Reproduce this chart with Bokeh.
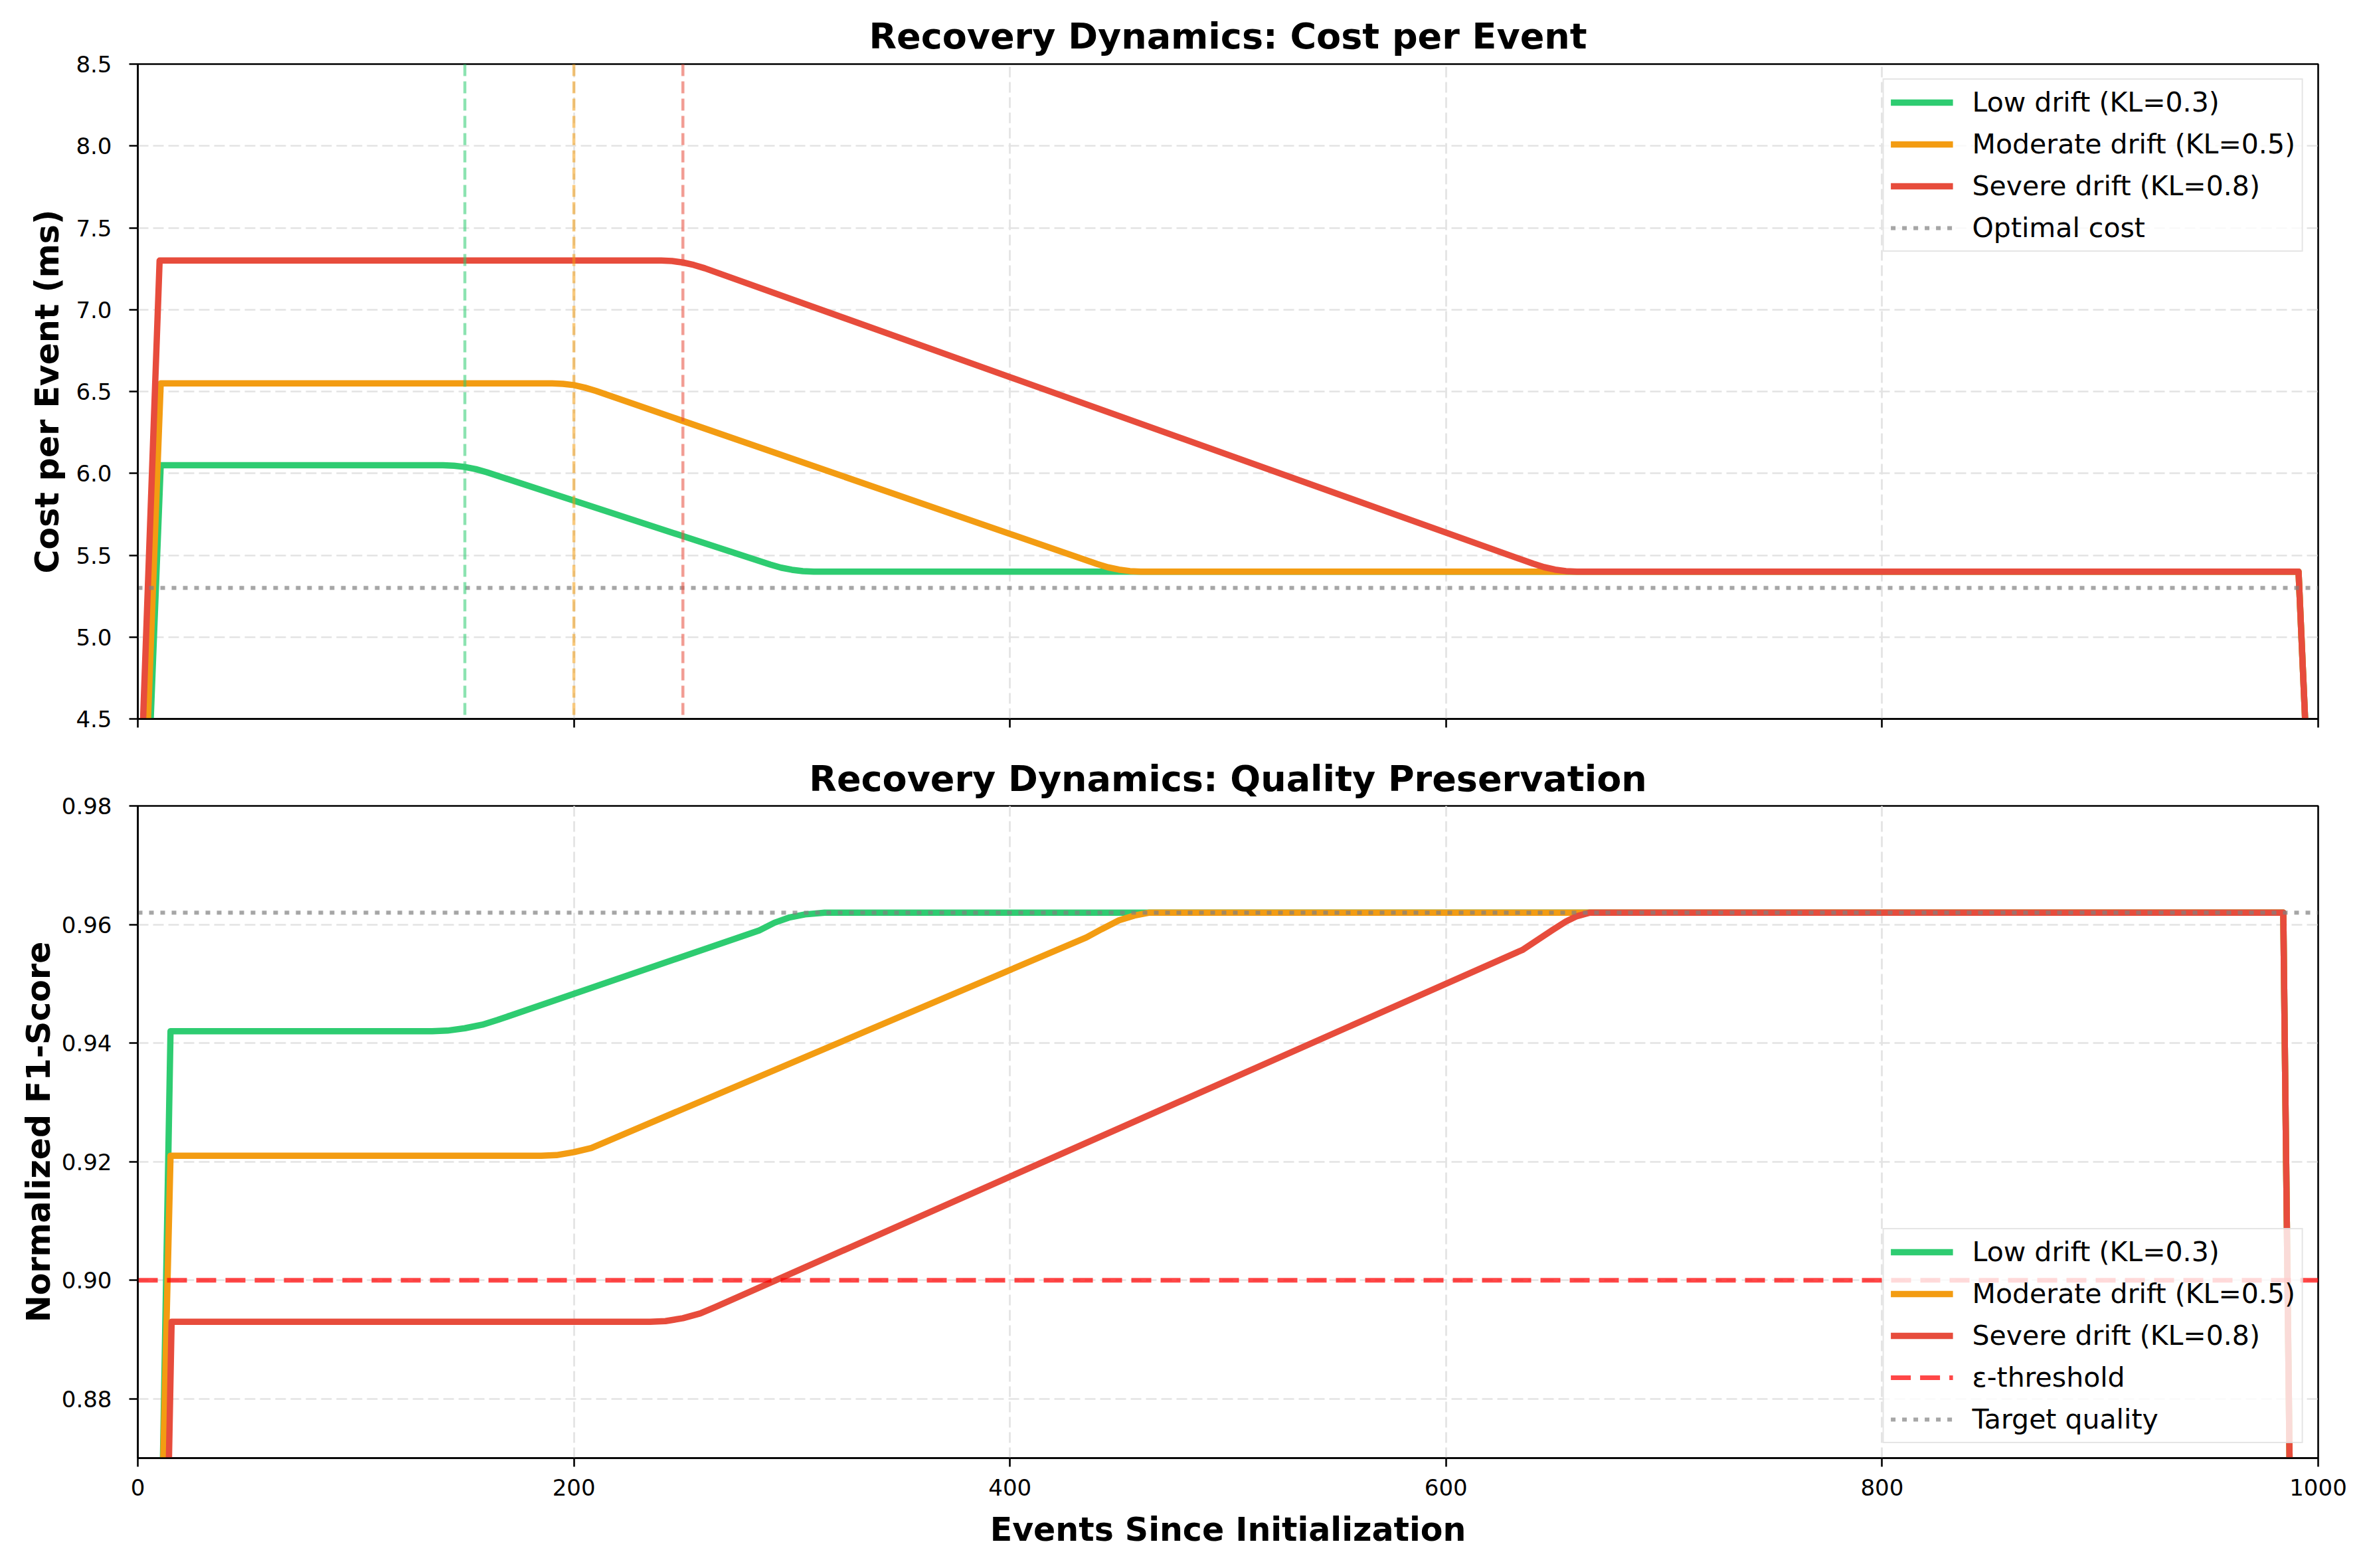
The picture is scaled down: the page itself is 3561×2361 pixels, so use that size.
from bokeh.plotting import figure
from bokeh.models import Range1d, FixedTicker, Legend, LegendItem, Span, PrintfTickFormatter
from bokeh.layouts import column
from bokeh.embed import file_html
from bokeh.resources import INLINE

FONT = "DejaVu Sans"
GREEN, ORANGE, RED = "#2ecc71", "#f39c12", "#e74c3c"

# ---------------- data ----------------
X_MIN, X_MAX = 0, 1000
X_TICKS = [0, 200, 400, 600, 800, 1000]

SERIES_NAMES = ["Low drift (KL=0.3)", "Moderate drift (KL=0.5)", "Severe drift (KL=0.8)"]

# Cost per event (ms)
low_cost_x = [0, 10.5, 140, 145, 150, 155, 160, 290, 295, 300, 305, 310, 991, 999]
low_cost_y = [2.5, 6.05, 6.05, 6.047, 6.039, 6.026, 6.007, 5.443, 5.424, 5.411, 5.403, 5.40, 5.40, 3.0]
mod_cost_x = [0, 10.5, 190, 195, 200, 205, 210, 440, 445, 450, 455, 460, 991, 999]
mod_cost_y = [2.85, 6.55, 6.55, 6.547, 6.539, 6.524, 6.504, 5.446, 5.426, 5.412, 5.403, 5.40, 5.40, 3.0]
sev_cost_x = [0, 10, 240, 245, 250, 255, 260, 640, 645, 650, 655, 660, 991, 999]
sev_cost_y = [3.6, 7.3, 7.3, 7.297, 7.288, 7.273, 7.253, 5.448, 5.427, 5.412, 5.403, 5.40, 5.40, 3.0]
OPTIMAL_COST = 5.3
DRIFT_MARKS = [150, 200, 250]          # vertical markers (low, moderate, severe)
COST_TICKS = [4.5, 5.0, 5.5, 6.0, 6.5, 7.0, 7.5, 8.0, 8.5]

# Normalized F1-score
low_f1_x = [0, 15, 135, 142, 150, 158, 165, 285, 292, 299, 306, 315, 984, 999]
low_f1_y = [0.63, 0.942, 0.942, 0.9421, 0.9425, 0.9431, 0.9439, 0.959, 0.9603, 0.9612, 0.9617, 0.962, 0.962, 0.48]
mod_f1_x = [0, 15, 185, 192, 200, 208, 215, 435, 442, 450, 457, 464, 984, 999]
mod_f1_y = [0.69, 0.921, 0.921, 0.9211, 0.9216, 0.9223, 0.9234, 0.9578, 0.9592, 0.9607, 0.9615, 0.962, 0.962, 0.48]
sev_f1_x = [0, 15.5, 235, 242, 250, 258, 265, 635, 642, 649, 655, 660, 666, 984, 999]
sev_f1_y = [0.60, 0.893, 0.893, 0.8931, 0.8936, 0.8944, 0.8955, 0.9557, 0.9574, 0.9591, 0.9605, 0.9614, 0.962, 0.962, 0.48]
EPS_THRESHOLD = 0.90
TARGET_QUALITY = 0.962
F1_TICKS = [0.88, 0.90, 0.92, 0.94, 0.96, 0.98]

# ---------------- styling helpers ----------------
LW = 9.5


def style(p, yticks, yfmt):
    p.title.text_font = FONT
    p.title.text_font_size = "54px"
    p.title.text_font_style = "bold"
    p.title.text_color = "black"
    p.title.align = "center"
    p.title.standoff = 22
    p.outline_line_color = "black"
    p.outline_line_width = 2.6
    p.outline_line_alpha = 1.0
    for ax in (p.xaxis[0], p.yaxis[0]):
        ax.axis_line_width = 2.6
        ax.axis_line_color = "black"
        ax.major_tick_line_width = 2.6
        ax.major_tick_line_color = "black"
        ax.major_tick_out = 13
        ax.major_tick_in = 0
        ax.minor_tick_line_color = None
        ax.major_label_text_font = FONT
        ax.major_label_text_font_size = "34px"
        ax.major_label_text_color = "black"
        ax.axis_label_text_font = FONT
        ax.axis_label_text_font_size = "49px"
        ax.axis_label_text_font_style = "bold"
        ax.axis_label_text_color = "black"
    p.xaxis.ticker = FixedTicker(ticks=X_TICKS)
    p.xaxis.formatter = PrintfTickFormatter(format="%d")
    p.xaxis.major_label_standoff = 18
    p.yaxis.ticker = FixedTicker(ticks=yticks)
    p.yaxis.formatter = PrintfTickFormatter(format=yfmt)
    p.yaxis.major_label_standoff = 26
    p.yaxis.axis_label_standoff = 11
    for g in (p.xgrid, p.ygrid):
        g.grid_line_color = "#e3e3e3"
        g.grid_line_width = 2.7
        g.grid_line_dash = "16 7"


def make_legend(items, location):
    lg = Legend(items=items, location=location)
    lg.label_text_font = FONT
    lg.label_text_font_size = "41px"
    lg.label_text_color = "black"
    lg.glyph_width = 94
    lg.glyph_height = 48
    lg.label_height = 48
    lg.label_standoff = 29
    lg.spacing = 15
    lg.padding = 10
    lg.margin = 22
    lg.border_line_color = "#cccccc"
    lg.border_line_width = 2
    lg.background_fill_color = "white"
    lg.background_fill_alpha = 0.8
    return lg


x_range = Range1d(X_MIN, X_MAX)

# ---------------- top: cost ----------------
p1 = figure(width=3545, height=1122, x_range=x_range, y_range=Range1d(4.5, 8.5),
            output_backend="svg", toolbar_location=None,
            title="Recovery Dynamics: Cost per Event",
            min_border_left=207, min_border_right=55, min_border_top=96, min_border_bottom=40)
style(p1, COST_TICKS, "%.1f")
p1.yaxis.axis_label = "Cost per Event (ms)"
p1.xaxis.major_label_overrides = {t: "" for t in X_TICKS}
p1.xaxis.major_label_text_font_size = "0px"

r1 = []
for xs, ys, c in [(low_cost_x, low_cost_y, GREEN), (mod_cost_x, mod_cost_y, ORANGE),
                  (sev_cost_x, sev_cost_y, RED)]:
    r1.append(p1.line(xs, ys, line_color=c, line_width=LW, line_join="round"))
r_opt = p1.line([X_MIN, X_MAX], [OPTIMAL_COST, OPTIMAL_COST], line_color="gray", line_alpha=0.7,
                line_width=6, line_dash="7 10")
for loc, c in zip(DRIFT_MARKS, [GREEN, ORANGE, RED]):
    p1.add_layout(Span(location=loc, dimension="height", line_color=c, line_alpha=0.55,
                       line_width=4.5, line_dash="18 8"))
items1 = [LegendItem(label=n, renderers=[r]) for n, r in zip(SERIES_NAMES, r1)]
items1.append(LegendItem(label="Optimal cost", renderers=[r_opt]))
p1.add_layout(make_legend(items1, "top_right"))

# ---------------- bottom: quality ----------------
p2 = figure(width=3545, height=1223, x_range=x_range, y_range=Range1d(0.87, 0.98),
            output_backend="svg", toolbar_location=None,
            title="Recovery Dynamics: Quality Preservation",
            min_border_left=207, min_border_right=55, min_border_top=91, min_border_bottom=150)
style(p2, F1_TICKS, "%.2f")
p2.title.standoff = 20
p2.yaxis.axis_label = "Normalized F1-Score"
p2.yaxis.axis_label_standoff = 3
p2.xaxis.axis_label = "Events Since Initialization"
p2.xaxis.axis_label_standoff = 20

r2 = []
for xs, ys, c in [(low_f1_x, low_f1_y, GREEN), (mod_f1_x, mod_f1_y, ORANGE),
                  (sev_f1_x, sev_f1_y, RED)]:
    r2.append(p2.line(xs, ys, line_color=c, line_width=LW, line_join="round"))
r_eps = p2.line([X_MIN, X_MAX], [EPS_THRESHOLD, EPS_THRESHOLD], line_color="red", line_alpha=0.72,
                line_width=7, line_dash="30 14")
r_tgt = p2.line([X_MIN, X_MAX], [TARGET_QUALITY, TARGET_QUALITY], line_color="gray", line_alpha=0.7,
                line_width=6, line_dash="7 10")
items2 = [LegendItem(label=n, renderers=[r]) for n, r in zip(SERIES_NAMES, r2)]
items2.append(LegendItem(label="ε-threshold", renderers=[r_eps]))
items2.append(LegendItem(label="Target quality", renderers=[r_tgt]))
p2.add_layout(make_legend(items2, "bottom_right"))

layout = column(p1, p2, spacing=0)
open("out.html", "w").write(file_html(layout, INLINE))
